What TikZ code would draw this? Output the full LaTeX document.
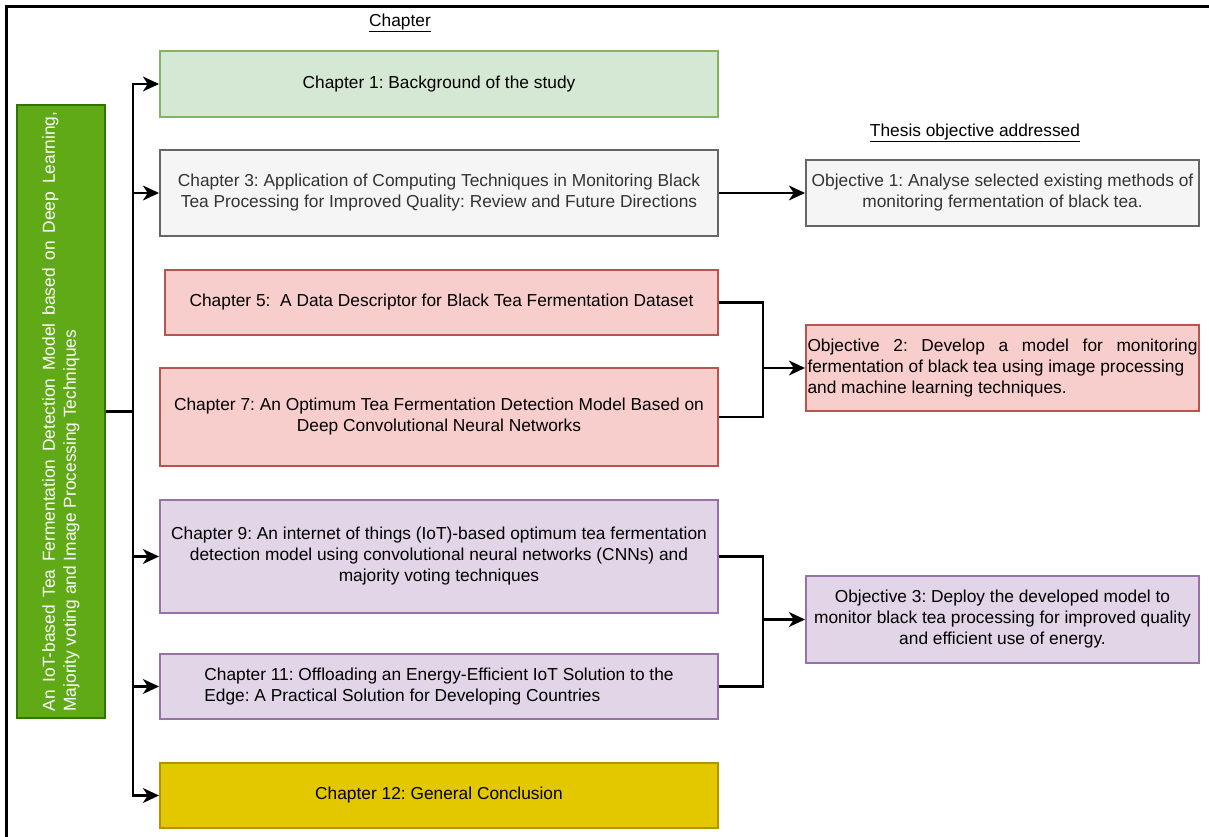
\documentclass[tikz,border=0pt]{standalone}
\usepackage{fontspec}
\setmainfont{Liberation Sans}
\usetikzlibrary{arrows.meta,positioning}
\frenchspacing

\definecolor{greenfill}{HTML}{D5E8D4}
\definecolor{greenline}{HTML}{82B366}
\definecolor{greyfill}{HTML}{F5F5F5}
\definecolor{greyline}{HTML}{666666}
\definecolor{greytext}{HTML}{333333}
\definecolor{redfill}{HTML}{F8CECC}
\definecolor{redline}{HTML}{B85450}
\definecolor{purplefill}{HTML}{E1D5E7}
\definecolor{purpleline}{HTML}{9673A6}
\definecolor{yellowfill}{HTML}{E3C800}
\definecolor{yellowline}{HTML}{B09500}
\definecolor{thesisfill}{HTML}{60A917}
\definecolor{thesisline}{HTML}{2D7600}

\tikzset{
	chapbox/.style={draw, line width=1.4pt, align=center, minimum width=418.5pt, inner sep=2pt},
	objbox/.style={draw, line width=1.4pt, align=center, minimum width=294.75pt, inner sep=1pt},
	link/.style={line width=2.2pt, -{Stealth[length=12pt,width=11pt,inset=3.5pt]}},
	joint/.style={line width=2.2pt}
}

\begin{document}
\begin{tikzpicture}[x=0.75pt,y=-0.75pt,font=\fontsize{13}{15.75}\selectfont]
	\useasboundingbox (0,0) rectangle (1209,837);
	\draw [line width=2.25pt] (6,837) -- (6,7) -- (1209,7);

	% headings
	\node (chaptitle) at (400,23) {\underline{Chapter}};
	\node (objtitle) at (975,133) {\underline{Thesis objective addressed}};

	% thesis title
	\node [draw=thesisline, fill=thesisfill, line width=1.4pt, text=white, rotate=90,
		minimum width=459.75pt, minimum height=66pt, text width=450pt, align=justify, inner sep=0pt]
		(thesis) at (61,411.5) {An IoT-based Tea Fermentation Detection Model based on Deep Learning,\linebreak Majority voting and Image Processing Techniques};

	% chapters
	\node [chapbox, fill=greenfill, draw=greenline, minimum height=49.5pt] (ch1) at (439,84) {Chapter 1: Background of the study};
	\node [chapbox, fill=greyfill, draw=greyline, text=greytext, minimum height=64.5pt] (ch3) at (439,193)
		{Chapter 3: Application of Computing Techniques in Monitoring Black\\Tea Processing for Improved Quality: Review and Future Directions};
	\node [chapbox, fill=redfill, draw=redline, minimum width=414.75pt, minimum height=48.75pt] (ch5) at (441.5,302.5)
		{Chapter 5:\ \ A Data Descriptor for Black Tea Fermentation Dataset};
	\node [chapbox, fill=redfill, draw=redline, minimum height=73.5pt] (ch7) at (439,417)
		{Chapter 7: An Optimum Tea Fermentation Detection Model Based on\\Deep Convolutional Neural Networks};
	\node [chapbox, fill=purplefill, draw=purpleline, minimum height=84.75pt] (ch9) at (439,556.5)
		{Chapter 9: An internet of things (IoT)-based optimum tea fermentation\\detection model using convolutional neural networks (CNNs) and\\majority voting techniques};
	\node [chapbox, fill=purplefill, draw=purpleline, minimum height=48.75pt, align=left] (ch11) at (439,686.5)
		{Chapter 11: Offloading an Energy-Efficient IoT Solution to the\\Edge: A Practical Solution for Developing Countries};
	\node [chapbox, fill=yellowfill, draw=yellowline, minimum height=48.75pt] (ch12) at (439,795.5) {Chapter 12: General Conclusion};

	% objectives
	\node [objbox, fill=greyfill, draw=greyline, text=greytext, minimum height=49.5pt] (obj1) at (1002.5,193)
		{Objective 1: Analyse selected existing methods of\\monitoring fermentation of black tea.};
	\node [objbox, fill=redfill, draw=redline, minimum height=64.5pt, text width=292.5pt, align=justify] (obj2) at (1002.5,368)
		{Objective 2: Develop a model for monitoring\linebreak fermentation of black tea using image processing\\and machine learning techniques.};
	\node [objbox, fill=purplefill, draw=purpleline, minimum height=65.25pt] (obj3) at (1002.5,619.5)
		{Objective 3: Deploy the developed model to\\monitor black tea processing for improved quality\\and efficient use of energy.};

	% thesis to chapters
	\coordinate (trunk) at (133,411.5);
	\draw [joint] (thesis.south) -- (trunk);
	\draw [link] (trunk) |- (ch1);
	\draw [link] (trunk) |- (ch3);
	\draw [link] (trunk) |- (ch9);
	\draw [link] (trunk) |- (ch11);
	\draw [link] (trunk) |- (ch12);

	% chapters to objectives
	\draw [link] (ch3) -- (obj1);
	\coordinate (join2) at (763,368);
	\draw [joint] (ch5) -| (join2);
	\draw [joint] (ch7) -| (join2);
	\draw [link] (join2) -- (obj2);
	\coordinate (join3) at (763,619.5);
	\draw [joint] (ch9) -| (join3);
	\draw [joint] (ch11) -| (join3);
	\draw [link] (join3) -- (obj3);
\end{tikzpicture}
\end{document}
